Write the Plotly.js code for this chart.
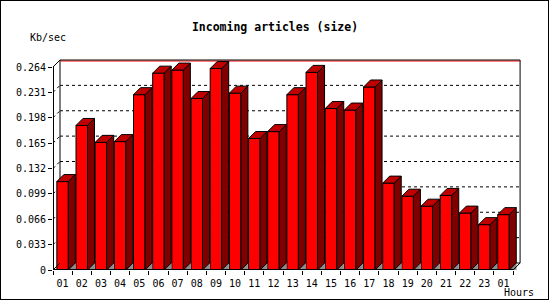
<!DOCTYPE html>
<html>
<head>
<meta charset="utf-8">
<script src="https://cdn.plot.ly/plotly-3.0.1.min.js"></script>
<style>
  html, body { margin: 0; padding: 0; background: #fff; }
  #wrap { position: relative; width: 550px; height: 300px; }
  #chart { width: 550px; height: 300px; }
  #frame { position: absolute; left: 0; top: 0; width: 549px; height: 300px;
           border: 1px solid #000; box-sizing: border-box; pointer-events: none; }
</style>
</head>
<body>
<div id="wrap"><div id="chart"></div><div id="frame"></div></div>
<script>
// ---- data ----
const hours = ['01','02','03','04','05','06','07','08','09','10','11','12',
               '13','14','15','16','17','18','19','20','21','22','23','01'];
const kbPerSec = [0.115, 0.188, 0.166, 0.167, 0.228, 0.256, 0.260, 0.223,
                  0.262, 0.230, 0.171, 0.180, 0.228, 0.257, 0.210, 0.208,
                  0.238, 0.113, 0.096, 0.083, 0.097, 0.074, 0.059, 0.072];
const yTickVals = [0, 0.033, 0.066, 0.099, 0.132, 0.165, 0.198, 0.231, 0.264];
const yTickText = ['0', '0.033', '0.066', '0.099', '0.132', '0.165', '0.198', '0.231', '0.264'];
const titleText = 'Incoming articles (size)';
const yUnit = 'Kb/sec';
const xUnit = 'Hours';

// ---- geometry (pixels) ----
const L = 53, R = 28, T = 59, B = 30;
const W = 550 - L - R, H = 300 - T - B;
const slotPx = 19.17;                 // px per category
const yTop = yTickVals[yTickVals.length - 1];
const pxPerY = 203 / yTop;            // px per data unit on y
const XMAX = -0.5 + W / slotPx;
const YMAX = H / pxPerY;
const DX = 7 / slotPx, DY = 7 / pxPerY; // depth of 3D effect
const n = hours.length;
const idx = hours.map((_, i) => i);
const half = 0.3;
const xEnd = n - 0.5;

// ---- 3D faces built from data ----
const sideX = [], sideY = [], topX = [], topY = [], gX = [], gY = [];
kbPerSec.forEach((v, i) => {
  const a = i + half, b = i - half;
  sideX.push(a, a, a + DX, a + DX, a, null);
  sideY.push(0, v, v + DY, DY, 0, null);
  topX.push(b, a, a + DX, b + DX, b, null);
  topY.push(v, v, v + DY, v + DY, v, null);
  gX.push(a, a + DX, a + DX, a, null);
  gY.push(0, DY, 0, 0, null);
});

const traces = [
  { type: 'bar', x: idx, y: kbPerSec, width: 0.6,
    marker: { color: '#ff0000', line: { color: '#000', width: 1 } },
    hoverinfo: 'skip' },
  { type: 'scatter', x: gX, y: gY, mode: 'lines', fill: 'toself',
    fillcolor: '#8c8c8c', line: { color: '#8c8c8c', width: 0.5 }, hoverinfo: 'skip' },
  { type: 'scatter', x: sideX, y: sideY, mode: 'lines', fill: 'toself',
    fillcolor: '#800000', line: { color: '#000', width: 1 }, hoverinfo: 'skip' },
  { type: 'scatter', x: topX, y: topY, mode: 'lines', fill: 'toself',
    fillcolor: '#c00000', line: { color: '#000', width: 1 }, hoverinfo: 'skip' },
  // front axis lines (on plot edges)
  { type: 'scatter', x: [-0.5, -0.5], y: [0, yTop], mode: 'lines',
    line: { color: '#000', width: 2 }, hoverinfo: 'skip' },
  { type: 'scatter', x: [-0.5, xEnd], y: [0, 0], mode: 'lines',
    line: { color: '#000', width: 2 }, hoverinfo: 'skip' },
  { type: 'scatter',
    x: [-0.5, -0.5 + DX, null, xEnd, xEnd + DX, null, -0.5, -0.5 + DX],
    y: [yTop, yTop + DY, null, 0, DY, null, 0, DY], mode: 'lines',
    line: { color: '#000', width: 1 }, hoverinfo: 'skip' },
  // dummy for tick axis
  { type: 'scatter', x: [0], y: [0], xaxis: 'x2', mode: 'markers',
    marker: { opacity: 0 }, hoverinfo: 'skip' }
];

// ---- back wall + grid as shapes below traces ----
const shapes = [];
const bx0 = -0.5 + DX, bx1 = xEnd + DX;
yTickVals.forEach(v => {
  if (v > 0 && v < yTop) {
    shapes.push({ type: 'line', layer: 'below', xref: 'x', yref: 'y',
      x0: bx0, x1: bx1, y0: v + DY, y1: v + DY,
      line: { color: '#000', width: 1, dash: 'dot' } });
    shapes.push({ type: 'line', layer: 'below', xref: 'x', yref: 'y',
      x0: -0.5, x1: bx0, y0: v, y1: v + DY,
      line: { color: '#000', width: 1, dash: 'dot' } });
  }
});
const solid = { color: '#000', width: 1 };
shapes.push({ type: 'line', layer: 'below', xref: 'x', yref: 'y', x0: bx0, x1: bx0, y0: DY, y1: yTop + DY, line: solid });
shapes.push({ type: 'line', layer: 'below', xref: 'x', yref: 'y', x0: bx1, x1: bx1, y0: DY, y1: yTop + DY, line: solid });
shapes.push({ type: 'line', layer: 'below', xref: 'x', yref: 'y', x0: bx0, x1: bx1, y0: DY, y1: DY, line: solid });
shapes.push({ type: 'line', layer: 'below', xref: 'x', yref: 'y', x0: bx0, x1: bx1, y0: yTop + DY - 1 / pxPerY, y1: yTop + DY - 1 / pxPerY, line: { color: '#ff0000', width: 1 } });
shapes.push({ type: 'line', layer: 'below', xref: 'x', yref: 'y', x0: bx0, x1: bx1, y0: yTop + DY, y1: yTop + DY, line: solid });

const tickFont = { family: 'DejaVu Sans Mono', size: 10, color: '#000' };
const bounds = idx.concat([n]).map(i => i - 0.5);

const layout = {
  width: 550, height: 300,
  margin: { l: L, r: R, t: T, b: B, pad: 0 },
  paper_bgcolor: '#fff', plot_bgcolor: '#fff',
  showlegend: false,
  title: { text: titleText, xref: 'container', x: 0.5, xanchor: 'center',
           yref: 'container', y: 1 - 26.5 / 300, yanchor: 'middle',
           font: { family: 'DejaVu Sans Mono', size: 11.5, weight: 'bold', color: '#000' } },
  xaxis: { range: [-0.5, XMAX], autorange: false, tickvals: idx, ticktext: hours,
           ticks: 'outside', ticklen: 4, tickcolor: 'rgba(0,0,0,0)',
           showgrid: false, zeroline: false, showline: false, tickfont: tickFont, fixedrange: true },
  xaxis2: { overlaying: 'x', anchor: 'y', side: 'bottom', range: [-0.5, XMAX], autorange: false,
            tickvals: bounds, ticks: 'outside', ticklen: 4, tickcolor: '#000', tickwidth: 1,
            showticklabels: false, showgrid: false, zeroline: false, showline: false, fixedrange: true },
  yaxis: { range: [0, YMAX], autorange: false, tickvals: yTickVals, ticktext: yTickText,
           ticks: 'outside', ticklen: 4, tickcolor: '#000', tickwidth: 1,
           showgrid: false, zeroline: false, showline: false, tickfont: tickFont, fixedrange: true },
  bargap: 0,
  shapes: shapes,
  annotations: [
    { text: yUnit, xref: 'paper', yref: 'paper', x: (47.5 - L) / W, y: (T + H - 37) / H,
      xanchor: 'center', yanchor: 'middle', showarrow: false, font: tickFont },
    { text: xUnit, xref: 'paper', yref: 'paper', x: (518.5 - L) / W, y: (T + H - 292.5) / H,
      xanchor: 'center', yanchor: 'middle', showarrow: false, font: tickFont }
  ]
};

Plotly.newPlot('chart', traces, layout, { staticPlot: true, displayModeBar: false });
</script>
</body>
</html>
